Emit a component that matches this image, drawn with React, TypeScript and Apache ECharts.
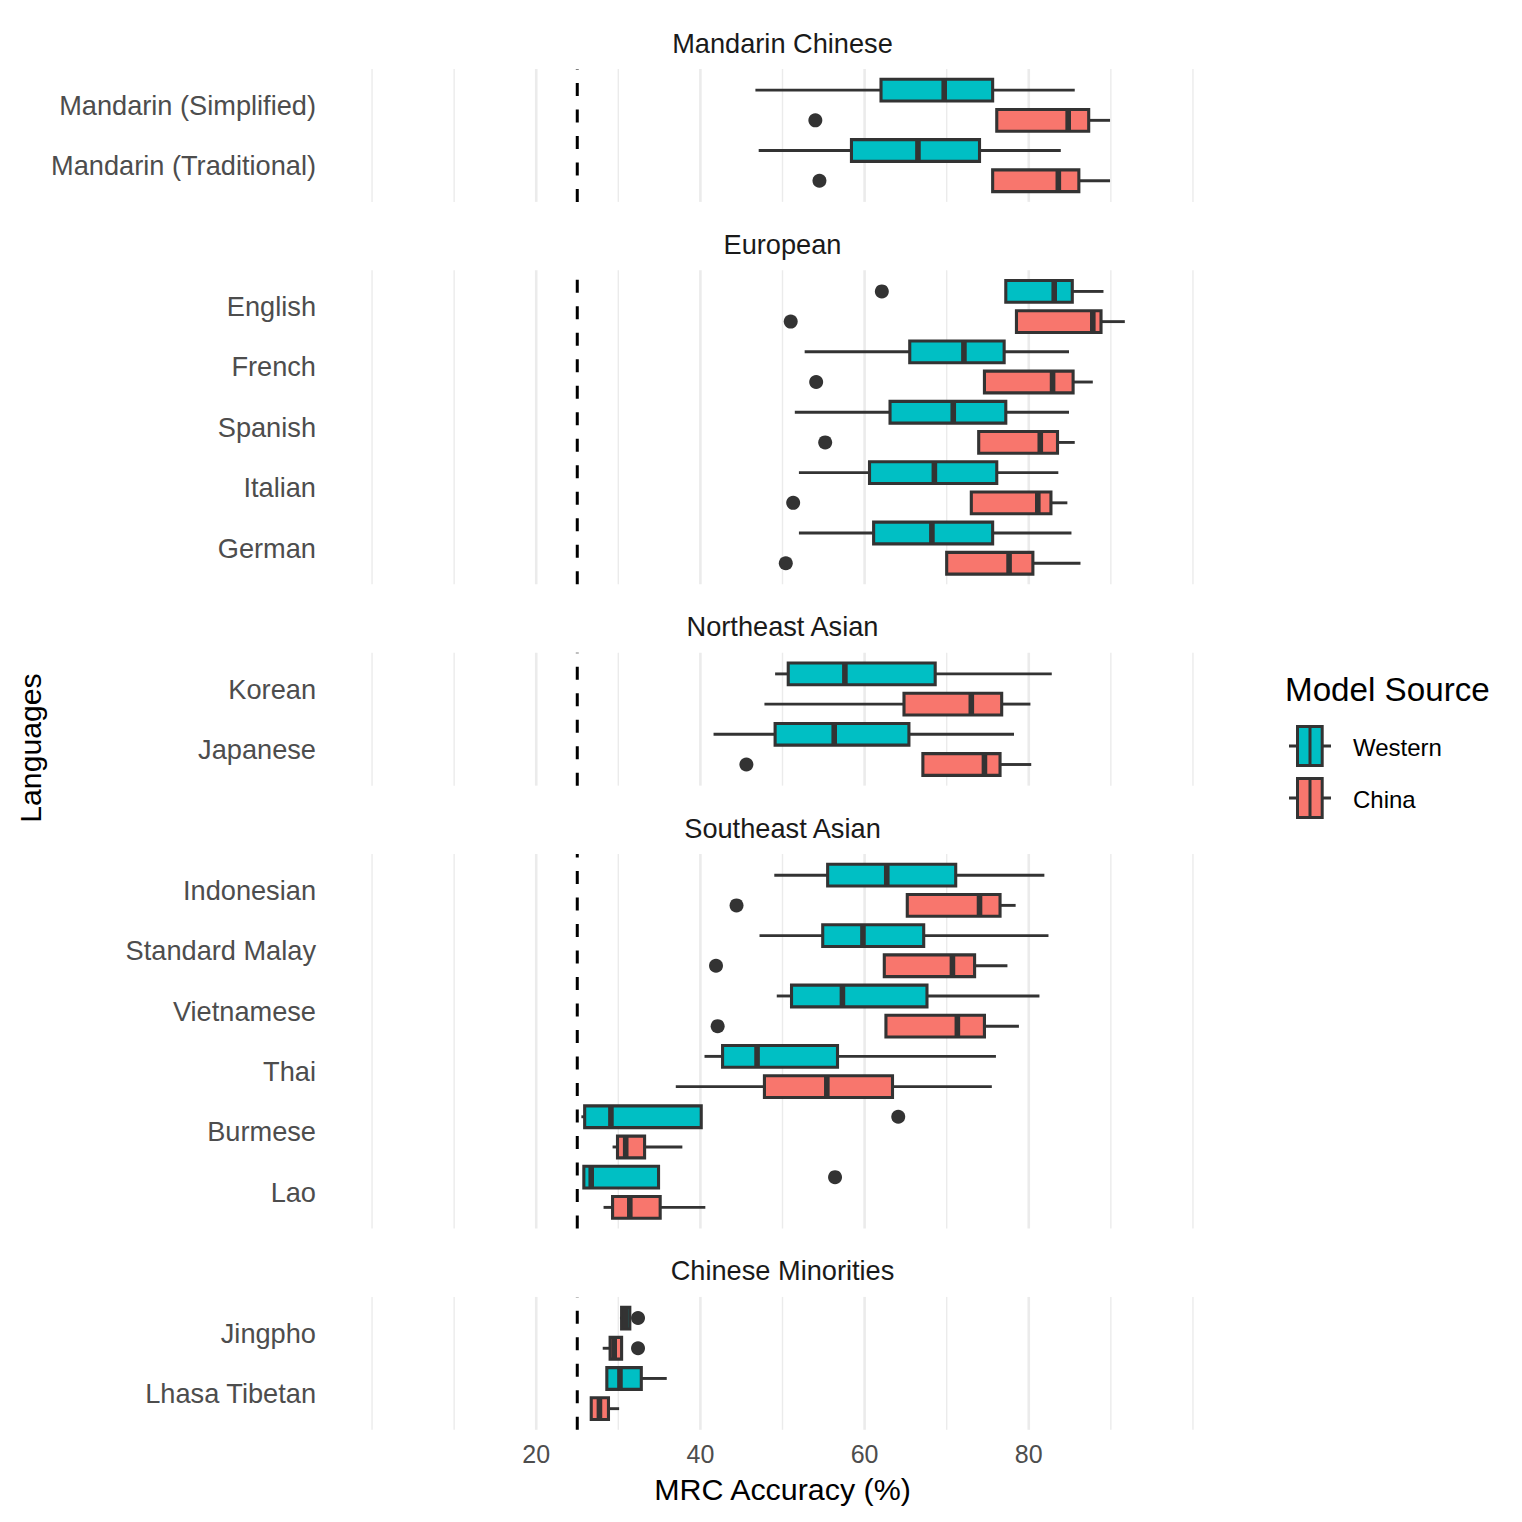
import React, { useEffect, useRef } from "react";
import * as echarts from "echarts";

// ---------------- DATA ----------------
const facetTitles = ["Mandarin Chinese", "European", "Northeast Asian", "Southeast Asian", "Chinese Minorities"];
const sources = ["Western", "China"];

// stats: [lower whisker, Q1, median, Q3, upper whisker]
const mandarinLanguages = ["Mandarin (Simplified)", "Mandarin (Traditional)"];
const mandarinWestern = [
  [46.7, 62.0, 69.7, 75.6, 85.6],
  [47.1, 58.4, 66.5, 74.0, 83.9],
];
const mandarinChina = [
  [76.1, 76.1, 84.8, 87.3, 89.9],
  [75.6, 75.6, 83.6, 86.1, 89.9],
];
const mandarinWesternOutliers: number[][] = [];
const mandarinChinaOutliers = [[0, 54.0], [1, 54.5]];

const europeanLanguages = ["English", "French", "Spanish", "Italian", "German"];
const europeanWestern = [
  [77.2, 77.2, 83.1, 85.3, 89.1],
  [52.7, 65.5, 72.1, 77.0, 84.9],
  [51.5, 63.1, 70.8, 77.2, 84.9],
  [52.0, 60.6, 68.5, 76.1, 83.6],
  [52.0, 61.1, 68.2, 75.6, 85.2],
];
const europeanChina = [
  [78.5, 78.5, 87.8, 88.8, 91.7],
  [74.6, 74.6, 82.9, 85.4, 87.8],
  [73.9, 73.9, 81.4, 83.5, 85.6],
  [73.0, 73.0, 81.1, 82.7, 84.7],
  [70.0, 70.0, 77.6, 80.5, 86.3],
];
const europeanWesternOutliers = [[0, 62.1]];
const europeanChinaOutliers = [[0, 51.0], [1, 54.1], [2, 55.2], [3, 51.3], [4, 50.4]];

const northeastLanguages = ["Korean", "Japanese"];
const northeastWestern = [
  [49.1, 50.7, 57.6, 68.6, 82.8],
  [41.6, 49.1, 56.3, 65.4, 78.2],
];
const northeastChina = [
  [47.8, 64.8, 73.0, 76.7, 80.2],
  [67.1, 67.1, 74.6, 76.5, 80.3],
];
const northeastWesternOutliers: number[][] = [];
const northeastChinaOutliers = [[1, 45.6]];

const southeastLanguages = ["Indonesian", "Standard Malay", "Vietnamese", "Thai", "Burmese", "Lao"];
const southeastWestern = [
  [49.0, 55.5, 62.7, 71.1, 81.9],
  [47.2, 54.9, 59.8, 67.2, 82.4],
  [49.3, 51.1, 57.3, 67.6, 81.3],
  [40.5, 42.7, 46.9, 56.7, 76.0],
  [25.5, 25.9, 29.1, 40.1, 40.1],
  [25.8, 25.8, 26.7, 34.9, 34.9],
];
const southeastChina = [
  [65.2, 65.2, 74.0, 76.5, 78.4],
  [62.4, 62.4, 70.7, 73.4, 77.4],
  [62.6, 62.6, 71.3, 74.6, 78.8],
  [37.0, 47.8, 55.4, 63.4, 75.5],
  [29.3, 29.9, 30.9, 33.2, 37.8],
  [28.2, 29.3, 31.4, 35.1, 40.6],
];
const southeastWesternOutliers = [[4, 64.1], [5, 56.4]];
const southeastChinaOutliers = [[0, 44.4], [1, 41.9], [2, 42.1]];

const minorityLanguages = ["Jingpho", "Lhasa Tibetan"];
const minorityWestern = [
  [30.2, 30.4, 30.9, 31.4, 31.4],
  [28.6, 28.6, 30.2, 32.8, 35.9],
];
const minorityChina = [
  [28.1, 29.0, 29.5, 30.4, 30.4],
  [26.7, 26.7, 27.7, 28.8, 30.1],
];
const minorityWesternOutliers = [[0, 32.4]];
const minorityChinaOutliers = [[0, 32.4]];

const xTickValues = [20, 40, 60, 80];
const gridValues = [0, 10, 20, 30, 40, 50, 60, 70, 80, 90, 100];
const chanceLevel = 25;

// ---------------- LAYOUT / STYLE ----------------
const FONT = "'Liberation Sans', Arial, Helvetica, sans-serif";
const COLORS = ["#00BFC4", "#F8766D"];
const STROKE = "#333333";
const UNIT = 60.4;
const PANEL_LEFT = 331;
const PANEL_RIGHT = 1234;
const FIRST_TOP = 69;
const PANEL_GAP = 68.4;
const BOX_H = 0.36;
const DODGE = 0.25;

const facets = [
  { langs: mandarinLanguages, stats: [mandarinWestern, mandarinChina], out: [mandarinWesternOutliers, mandarinChinaOutliers] },
  { langs: europeanLanguages, stats: [europeanWestern, europeanChina], out: [europeanWesternOutliers, europeanChinaOutliers] },
  { langs: northeastLanguages, stats: [northeastWestern, northeastChina], out: [northeastWesternOutliers, northeastChinaOutliers] },
  { langs: southeastLanguages, stats: [southeastWestern, southeastChina], out: [southeastWesternOutliers, southeastChinaOutliers] },
  { langs: minorityLanguages, stats: [minorityWestern, minorityChina], out: [minorityWesternOutliers, minorityChinaOutliers] },
];

function boxRenderer(offset: number, fill: string) {
  return (params: any, api: any) => {
    const idx = api.value(0);
    const pos = idx + offset;
    const lo = api.coord([api.value(1), pos]);
    const q1 = api.coord([api.value(2), pos]);
    const md = api.coord([api.value(3), pos]);
    const q3 = api.coord([api.value(4), pos]);
    const hi = api.coord([api.value(5), pos]);
    const y = lo[1];
    const h = Math.abs(api.size([0, BOX_H])[1]);
    const children: any[] = [];
    if (q1[0] - lo[0] > 0.5) {
      children.push({ type: "line", shape: { x1: lo[0], y1: y, x2: q1[0], y2: y }, style: { stroke: STROKE, lineWidth: 2.9 } });
    }
    if (hi[0] - q3[0] > 0.5) {
      children.push({ type: "line", shape: { x1: q3[0], y1: y, x2: hi[0], y2: y }, style: { stroke: STROKE, lineWidth: 2.9 } });
    }
    children.push({
      type: "rect",
      shape: { x: q1[0], y: y - h / 2, width: q3[0] - q1[0], height: h },
      style: { fill, stroke: STROKE, lineWidth: 3.1 },
    });
    children.push({
      type: "line",
      shape: { x1: md[0], y1: y - h / 2, x2: md[0], y2: y + h / 2 },
      style: { stroke: STROKE, lineWidth: 5.6 },
    });
    return { type: "group", children };
  };
}

function gridRenderer(params: any, api: any) {
  const v = api.value(0);
  const x = api.coord([v, 0])[0];
  const cs = params.coordSys;
  const major = xTickValues.indexOf(v) >= 0;
  return {
    type: "line",
    shape: { x1: x, y1: cs.y, x2: x, y2: cs.y + cs.height },
    style: { stroke: "#EBEBEB", lineWidth: major ? 2.6 : 1.4 },
  };
}

function chanceRenderer(params: any, api: any) {
  const x = api.coord([api.value(0), 0])[0];
  const cs = params.coordSys;
  return {
    type: "line",
    shape: { x1: x, y1: cs.y + cs.height, x2: x, y2: cs.y },
    style: { stroke: "#000000", lineWidth: 3, lineDash: [13, 13.5] },
  };
}

function buildOption() {
  const grids: any[] = [];
  const xAxes: any[] = [];
  const yAxes: any[] = [];
  const series: any[] = [];
  const graphics: any[] = [];
  let top = FIRST_TOP;
  facets.forEach((f, fi) => {
    const n = f.langs.length;
    const height = (n + 0.2) * UNIT;
    grids.push({ left: PANEL_LEFT, width: PANEL_RIGHT - PANEL_LEFT, top, height, containLabel: false });
    const isLast = fi === facets.length - 1;
    xAxes.push({
      gridIndex: fi,
      type: "value",
      min: -5,
      max: 105,
      axisLine: { show: false },
      axisTick: { show: false },
      splitLine: { show: false },
      axisLabel: isLast
        ? { show: true, customValues: xTickValues, fontSize: 25, fontFamily: FONT, color: "#4D4D4D", margin: 12 }
        : { show: false },
    });
    const langs = f.langs;
    yAxes.push({
      gridIndex: fi,
      type: "value",
      inverse: true,
      min: -0.6,
      max: n - 0.4,
      axisLine: { show: false },
      axisTick: { show: false },
      splitLine: { show: false },
      axisLabel: {
        show: true,
        customValues: langs.map((_, i) => i),
        formatter: (v: number) => langs[Math.round(v)] ?? "",
        fontSize: 27.2,
        fontFamily: FONT,
        color: "#4D4D4D",
        margin: 15,
      },
    });
    graphics.push({
      type: "text",
      x: (PANEL_LEFT + PANEL_RIGHT) / 2,
      y: top - 26,
      style: {
        text: facetTitles[fi],
        fontSize: 27.2,
        fontFamily: FONT,
        fill: "#1A1A1A",
        align: "center",
        verticalAlign: "middle",
        textAlign: "center",
        textVerticalAlign: "middle",
      },
    });
    series.push({
      type: "custom",
      xAxisIndex: fi,
      yAxisIndex: fi,
      z: 0,
      silent: true,
      clip: false,
      renderItem: gridRenderer,
      encode: { x: 0, y: 1 },
      data: gridValues.map((v) => [v, 0]),
    });
    [0, 1].forEach((si) => {
      const offset = si === 0 ? -DODGE : DODGE;
      series.push({
        type: "custom",
        name: sources[si],
        xAxisIndex: fi,
        yAxisIndex: fi,
        z: 2,
        clip: false,
        renderItem: boxRenderer(offset, COLORS[si]),
        encode: { x: [1, 2, 3, 4, 5], y: 0 },
        data: f.stats[si].map((s, i) => [i, ...s]),
      });
      series.push({
        type: "scatter",
        name: sources[si] + " outliers",
        xAxisIndex: fi,
        yAxisIndex: fi,
        z: 3,
        symbol: "circle",
        symbolSize: 14,
        itemStyle: { color: STROKE, opacity: 1 },
        data: f.out[si].map((o) => [o[1], o[0] + offset]),
      });
    });
    series.push({
      type: "custom",
      xAxisIndex: fi,
      yAxisIndex: fi,
      z: 4,
      silent: true,
      clip: false,
      renderItem: chanceRenderer,
      encode: { x: 0, y: 1 },
      data: [[chanceLevel, 0]],
    });
    top += height + PANEL_GAP;
  });

  // axis titles
  graphics.push({
    type: "text",
    x: (PANEL_LEFT + PANEL_RIGHT) / 2,
    y: 1489,
    style: {
      text: "MRC Accuracy (%)",
      fontSize: 30.4,
      fontFamily: FONT,
      fill: "#000000",
      align: "center",
      verticalAlign: "middle",
      textAlign: "center",
      textVerticalAlign: "middle",
    },
  });
  graphics.push({
    type: "text",
    x: 30,
    y: 748,
    rotation: Math.PI / 2,
    style: {
      text: "Languages",
      fontSize: 30.2,
      fontFamily: FONT,
      fill: "#000000",
      align: "center",
      verticalAlign: "middle",
      textAlign: "center",
      textVerticalAlign: "middle",
    },
  });

  // legend
  graphics.push({
    type: "text",
    x: 1285,
    y: 689,
    style: {
      text: "Model Source",
      fontSize: 33.2,
      fontFamily: FONT,
      fill: "#000000",
      align: "left",
      verticalAlign: "middle",
      textAlign: "left",
      textVerticalAlign: "middle",
    },
  });
  const keyCenters = [746, 798];
  sources.forEach((s, i) => {
    const yc = keyCenters[i];
    graphics.push({ type: "line", shape: { x1: 1289, y1: yc, x2: 1331, y2: yc }, style: { stroke: STROKE, lineWidth: 3 } });
    graphics.push({ type: "rect", shape: { x: 1297.5, y: yc - 19.5, width: 24.7, height: 39 }, style: { fill: COLORS[i], stroke: STROKE, lineWidth: 3 } });
    graphics.push({ type: "line", shape: { x1: 1310, y1: yc - 19.5, x2: 1310, y2: yc + 19.5 }, style: { stroke: STROKE, lineWidth: 3 } });
    graphics.push({
      type: "text",
      x: 1353,
      y: yc + 1,
      style: {
        text: s,
        fontSize: 24,
        fontFamily: FONT,
        fill: "#000000",
        align: "left",
        verticalAlign: "middle",
        textAlign: "left",
        textVerticalAlign: "middle",
      },
    });
  });

  return {
    animation: false,
    backgroundColor: "#FFFFFF",
    grid: grids,
    xAxis: xAxes,
    yAxis: yAxes,
    series,
    graphic: graphics,
  };
}

export default function App() {
  const ref = useRef<HTMLDivElement>(null);
  useEffect(() => {
    if (!ref.current) return;
    const chart = echarts.init(ref.current, undefined, { renderer: "svg" });
    chart.setOption(buildOption() as any);
    return () => chart.dispose();
  }, []);
  return (
    <div
      ref={ref}
      style={{ position: "fixed", left: 0, top: 0, width: 1522, height: 1522, background: "#fff" }}
    />
  );
}
